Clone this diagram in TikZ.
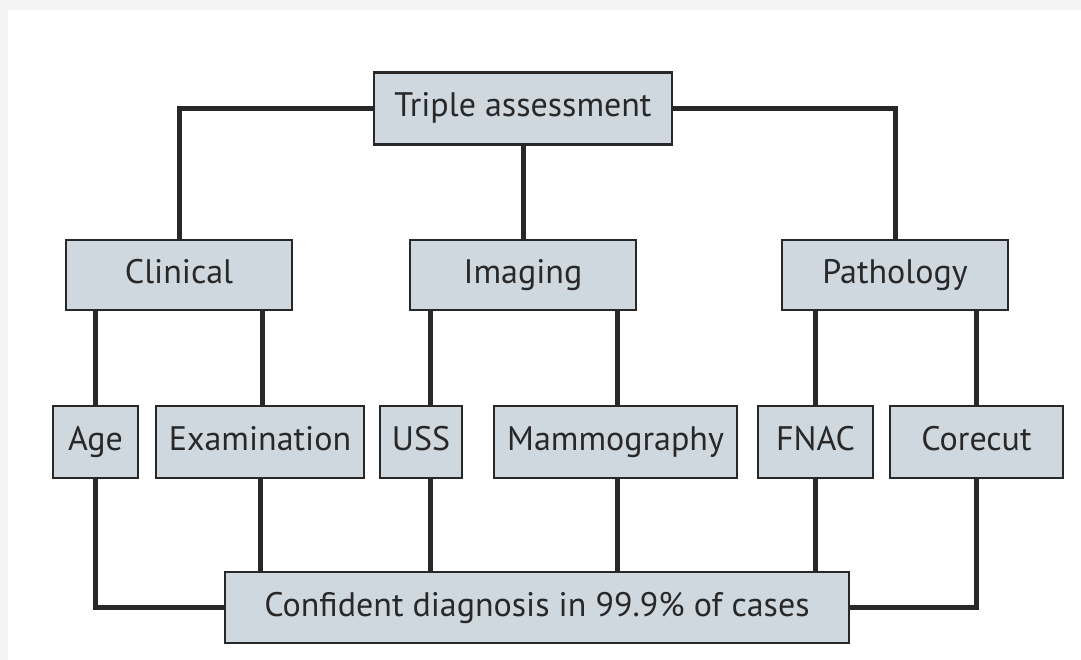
\documentclass[tikz,border=0pt]{standalone}
\usepackage{fontspec}
\setmainfont{PT Sans}
\definecolor{boxfill}{RGB}{207,215,223}
\definecolor{inkgray}{RGB}{40,40,40}
\begin{document}
\begin{tikzpicture}[x=1pt,y=-1pt]
\tikzstyle{every node}+=[inner sep=0pt]
\tikzstyle{box}=[draw=inkgray, line width=2.5pt, fill=boxfill, text=inkgray, minimum height=72pt, text height=24pt, text depth=7pt, font=\fontsize{34}{40}\selectfont]
\tikzstyle{link}=[draw=inkgray, line width=5pt]
\fill [gray!9] (0,0) rectangle (1081,660);
\fill [white] (8,10) rectangle (1081,660);
\useasboundingbox (0,0) rectangle (1081,660);
\node [box, minimum width=298pt] (tri) at (523,108.5) {Triple assessment};
\node [box, minimum width=226pt, minimum height=70pt] (cli) at (179,275) {Clinical};
\node [box, minimum width=226pt, minimum height=70pt] (ima) at (523,275) {Imaging};
\node [box, minimum width=226pt, minimum height=70pt] (pat) at (895,275) {Pathology};
\node [box, minimum width=85pt] (age) at (95.5,442) {Age};
\node [box, minimum width=208pt] (exa) at (260,442) {Examination};
\node [box, minimum width=82pt] (uss) at (421,442) {USS};
\node [box, minimum width=243pt] (mam) at (615.5,442) {Mammography};
\node [box, minimum width=115pt] (fna) at (815.5,442) {FNAC};
\node [box, minimum width=173pt] (cor) at (976.5,442) {Corecut};
\node [box, minimum width=624pt, minimum height=71pt] (dia) at (537,607.5) {Confident diagnosis in 99.9\% of cases};
\draw [link] (tri.west) -| (cli.north);
\draw [link] (tri.south) -- (ima.north);
\draw [link] (tri.east) -| (pat.north);
\draw [link] (age.north) -- (age.north |- cli.south);
\draw [link] ([xshift=2pt]exa.north) -- ([xshift=2pt]exa.north |- cli.south);
\draw [link] ([xshift=9pt]uss.north) -- ([xshift=9pt]uss.north |- ima.south);
\draw [link] ([xshift=1.5pt]mam.north) -- ([xshift=1.5pt]mam.north |- ima.south);
\draw [link] (fna.north) -- (fna.north |- pat.south);
\draw [link] (cor.north) -- (cor.north |- pat.south);
\draw [link] (age.south) |- (dia.west);
\draw [link] (exa.south) -- (exa.south |- dia.north);
\draw [link] ([xshift=9pt]uss.south) -- ([xshift=9pt]uss.south |- dia.north);
\draw [link] ([xshift=1.5pt]mam.south) -- ([xshift=1.5pt]mam.south |- dia.north);
\draw [link] (fna.south) -- (fna.south |- dia.north);
\draw [link] (cor.south) |- (dia.east);
\end{tikzpicture}
\end{document}
